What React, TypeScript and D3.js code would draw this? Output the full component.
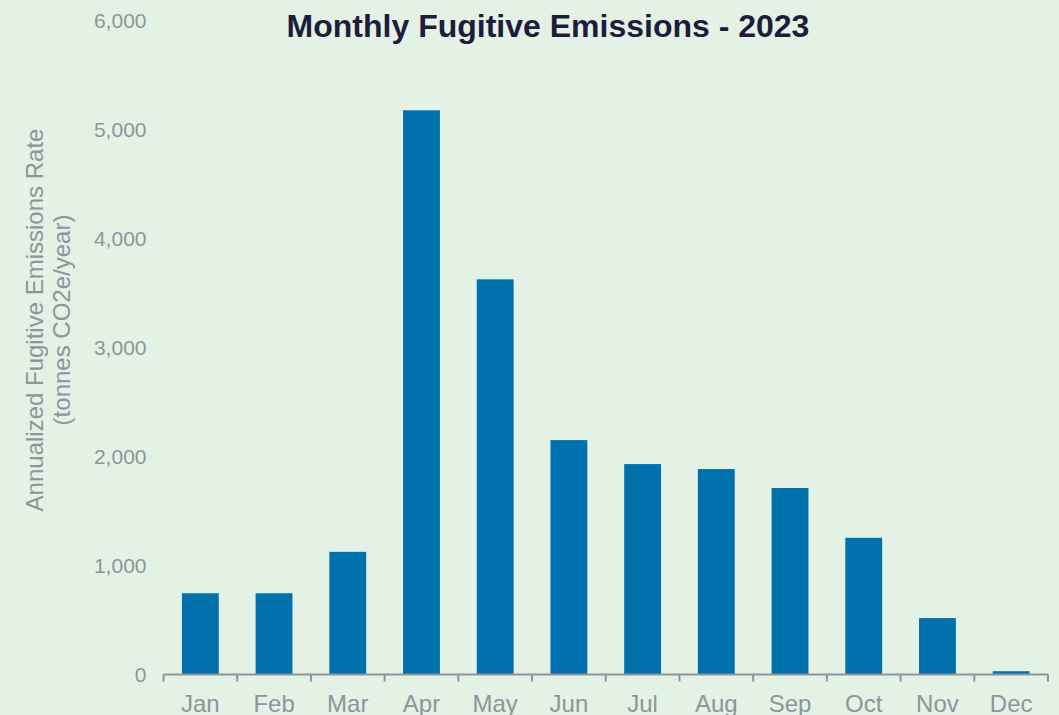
import { useRef, useEffect } from "react";
import * as d3 from "d3";

const months = ["Jan", "Feb", "Mar", "Apr", "May", "Jun", "Jul", "Aug", "Sep", "Oct", "Nov", "Dec"];
const emissions = [746, 746, 1126, 5180, 3628, 2152, 1932, 1886, 1712, 1255, 518, 30];
const yTicks = [0, 1000, 2000, 3000, 4000, 5000, 6000];

const W = 1059;
const H = 715;

export default function App() {
    const svgRef = useRef<SVGSVGElement>(null);

    useEffect(() => {
        if (!svgRef.current) return;
        const svg = d3.select(svgRef.current);
        svg.selectAll("*").remove();

        const margin = { top: 21, right: 11, bottom: 40.5, left: 163.5 };
        const width = W - margin.left - margin.right;
        const height = H - margin.top - margin.bottom;
        const font = "'Liberation Sans', Arial, sans-serif";
        const grey = "#8d959c";

        svg.append("rect").attr("width", W).attr("height", H).attr("fill", "#e3f2e5");

        const x = d3
            .scaleBand()
            .domain(months)
            .range([0, width])
            .paddingInner(0.5)
            .paddingOuter(0.25);
        const y = d3.scaleLinear().domain([0, 6000]).range([height, 0]);

        const g = svg
            .append("g")
            .attr("transform", `translate(${margin.left},${margin.top})`);

        g.selectAll(".bar")
            .data(emissions)
            .enter()
            .append("rect")
            .attr("class", "bar")
            .attr("x", (_, i) => x(months[i])!)
            .attr("y", (d) => y(d))
            .attr("width", x.bandwidth())
            .attr("height", (d) => height - y(d))
            .attr("fill", "#0071ad");

        // y tick labels, no axis line
        g.selectAll(".ylab")
            .data(yTicks)
            .enter()
            .append("text")
            .attr("x", -17)
            .attr("y", (d) => y(d))
            .attr("dy", "0.35em")
            .attr("text-anchor", "end")
            .attr("font-family", font)
            .attr("font-size", 21)
            .attr("fill", grey)
            .text((d) => d3.format(",")(d));

        // x axis
        const step = x.step();
        const xa = g.append("g").attr("transform", `translate(0,${height})`);
        xa.append("line")
            .attr("x1", 0)
            .attr("x2", width)
            .attr("stroke", grey)
            .attr("stroke-width", 2);
        xa.selectAll(".tick")
            .data(d3.range(months.length + 1))
            .enter()
            .append("line")
            .attr("x1", (i) => i * step)
            .attr("x2", (i) => i * step)
            .attr("y1", 0)
            .attr("y2", 7)
            .attr("stroke", grey)
            .attr("stroke-width", 2);
        xa.selectAll(".xlab")
            .data(months)
            .enter()
            .append("text")
            .attr("x", (d) => x(d)! + x.bandwidth() / 2)
            .attr("y", 37)
            .attr("text-anchor", "middle")
            .attr("font-family", font)
            .attr("font-size", 24)
            .attr("fill", grey)
            .text((d) => d);

        svg.append("text")
            .attr("x", 548)
            .attr("y", 37)
            .attr("text-anchor", "middle")
            .attr("font-family", font)
            .attr("font-size", 32)
            .attr("font-weight", "bold")
            .attr("fill", "#1e1c3a")
            .text("Monthly Fugitive Emissions - 2023");

        const yt = svg
            .append("text")
            .attr("transform", `translate(0,320) rotate(-90)`)
            .attr("text-anchor", "middle")
            .attr("font-family", font)
            .attr("font-size", 24)
            .attr("fill", grey);
        yt.append("tspan").attr("x", 0).attr("y", 43).text("Annualized Fugitive Emissions Rate");
        yt.append("tspan").attr("x", 0).attr("y", 70).text("(tonnes CO2e/year)");
    }, []);

    return <svg ref={svgRef} width={W} height={H} style={{ position: "absolute", left: 0, top: 0 }} />;
}
